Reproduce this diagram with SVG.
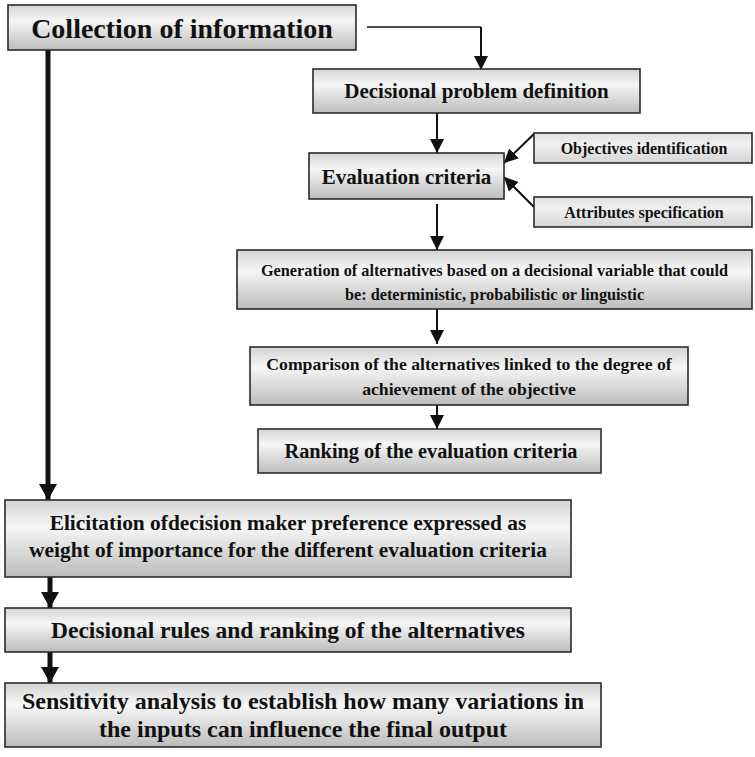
<svg xmlns="http://www.w3.org/2000/svg" width="755" height="757" viewBox="0 0 755 757">
  <defs>
    <linearGradient id="boxFill" x1="0" y1="0" x2="0" y2="1">
      <stop offset="0" stop-color="#d4d4d4"/>
      <stop offset="0.35" stop-color="#f6f6f6"/>
      <stop offset="1" stop-color="#bcbcbc"/>
    </linearGradient>
    <linearGradient id="sideFill" x1="0" y1="0" x2="0" y2="1">
      <stop offset="0" stop-color="#e0e0e0"/>
      <stop offset="0.4" stop-color="#f0f0f0"/>
      <stop offset="1" stop-color="#d4d4d4"/>
    </linearGradient>
    <marker id="headThin" markerUnits="userSpaceOnUse" markerWidth="14" markerHeight="14" viewBox="0 0 14 14" refX="14" refY="7" orient="auto">
      <path d="M0,0 L14,7 L0,14 Z" fill="#111"/>
    </marker>
    <marker id="headThick" markerUnits="userSpaceOnUse" markerWidth="16" markerHeight="18" viewBox="0 0 16 18" refX="16" refY="9" orient="auto">
      <path d="M0,0 L16,9 L0,18 Z" fill="#111"/>
    </marker>
  </defs>
  <style>
    .box { fill: url(#boxFill); stroke: #2b2b2b; stroke-width: 1.6; }
    .side { fill: url(#sideFill); stroke: #2b2b2b; stroke-width: 1.6; }
    text { font-family: "Liberation Serif", "Times New Roman", serif; font-weight: bold; fill: #111; text-anchor: middle; }
    .thin { stroke: #111; stroke-width: 2; fill: none; marker-end: url(#headThin); }
    .plain { stroke: #111; stroke-width: 1.6; fill: none; }
    .thick { stroke: #111; stroke-width: 5; fill: none; marker-end: url(#headThick); }
  </style>

  <!-- flow connectors -->
  <g id="connectors">
    <path class="thick" d="M48,50 V500"/>
    <path class="plain" d="M367,27 H481"/>
    <path class="thin" d="M481,27 V70"/>
    <path class="thin" d="M437,113 V153"/>
    <path class="thin" d="M534,134 L504,163"/>
    <path class="thin" d="M534,207 L504,177"/>
    <path class="thin" d="M437,204 V250"/>
    <path class="thin" d="M437,309 V344"/>
    <path class="thin" d="M437,405 V429"/>
    <path class="thick" d="M50,577 V608"/>
    <path class="thick" d="M50,652 V683"/>
  </g>

  <g id="collection">
    <rect class="box" x="8" y="5" width="348" height="45"/>
    <text x="182" y="38" font-size="28">Collection of information</text>
  </g>

  <g id="problem">
    <rect class="box" x="313" y="69" width="327" height="44"/>
    <text x="476.5" y="98" font-size="21">Decisional problem definition</text>
  </g>

  <g id="criteria">
    <rect class="box" x="309" y="153" width="195" height="46"/>
    <text x="406.5" y="184" font-size="21">Evaluation criteria</text>
  </g>

  <g id="objectives">
    <rect class="side" x="534" y="133" width="218" height="30"/>
    <text x="644" y="154" font-size="16">Objectives identification</text>
  </g>

  <g id="attributes">
    <rect class="side" x="534" y="197" width="218" height="30"/>
    <text x="644" y="218" font-size="16">Attributes specification</text>
  </g>

  <g id="generation">
    <rect class="box" x="237" y="250" width="515" height="59"/>
    <text x="494.5" y="276" font-size="16.3">Generation of alternatives based on a decisional variable that could</text>
    <text x="494.5" y="300" font-size="16.3">be: deterministic, probabilistic or linguistic</text>
  </g>

  <g id="comparison">
    <rect class="box" x="250" y="347" width="438" height="58"/>
    <text x="469" y="370" font-size="17.7">Comparison of the alternatives linked to the degree of</text>
    <text x="469" y="395" font-size="17.7">achievement of the objective</text>
  </g>

  <g id="ranking">
    <rect class="box" x="258" y="429" width="343" height="44"/>
    <text x="431" y="458" font-size="20.3">Ranking of the evaluation criteria</text>
  </g>

  <g id="elicitation">
    <rect class="box" x="5" y="500" width="566" height="77"/>
    <text x="288" y="530" font-size="21.4">Elicitation ofdecision maker preference expressed as</text>
    <text x="288" y="557" font-size="21.4">weight of importance for the different evaluation criteria</text>
  </g>

  <g id="rules">
    <rect class="box" x="5" y="608" width="566" height="44"/>
    <text x="288" y="638" font-size="23.5">Decisional rules and ranking of the alternatives</text>
  </g>

  <g id="sensitivity">
    <rect class="box" x="5" y="683" width="596" height="64"/>
    <text x="303" y="709" font-size="24">Sensitivity analysis to establish how many variations in</text>
    <text x="303" y="737" font-size="24">the inputs can influence the final output</text>
  </g>
</svg>
